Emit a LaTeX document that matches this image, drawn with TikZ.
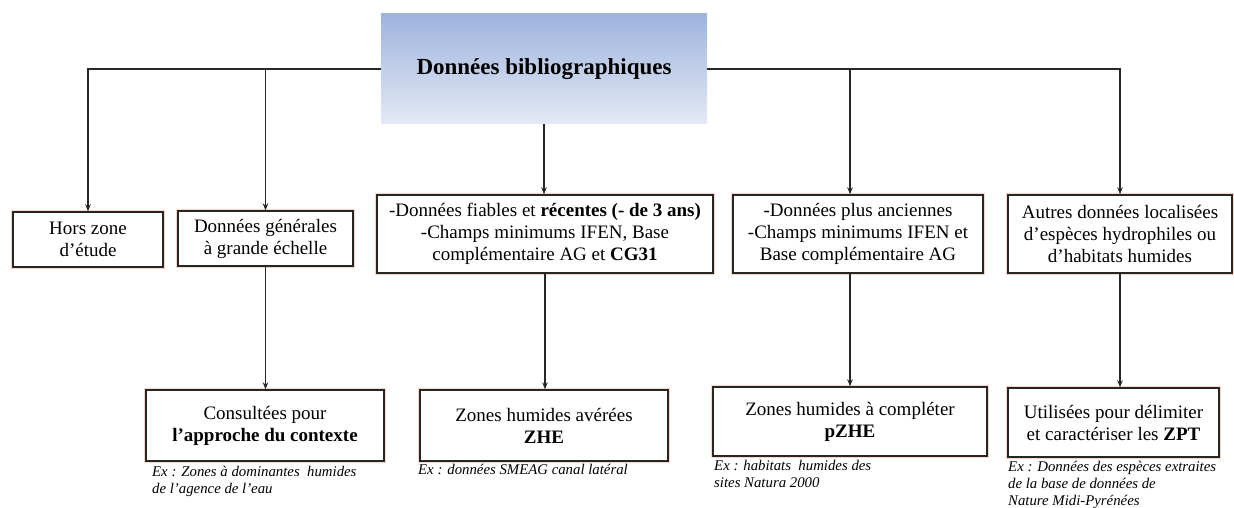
\documentclass[tikz,border=0pt]{standalone}
\usepackage{fontspec}
\setmainfont{Liberation Serif}
\usepackage{xcolor}
\usepackage{tikz}
\usetikzlibrary{positioning, calc, arrows.meta}
\definecolor{bleuhaut}{RGB}{158,180,221}
\definecolor{bleubas}{RGB}{228,233,245}
\definecolor{trait}{RGB}{38,38,38}
\definecolor{halo}{RGB}{250,212,198}

\begin{document}
\begin{tikzpicture}[x=1pt, y=-1pt,
	boite/.style={draw=trait, line width=1.4pt, fill=white, align=center, inner sep=0pt,
		font=\fontsize{19}{22}\selectfont, preaction={draw=halo, line width=3.6pt}},
	titre/.style={top color=bleuhaut, bottom color=bleubas, align=center, inner sep=0pt,
		font=\fontsize{23}{27}\selectfont\bfseries},
	fleche/.style={draw=trait, line width=1.3pt, -{Stealth[length=7pt, width=5.5pt]}},
	legende/.style={anchor=north west, align=left, inner sep=0pt,
		font=\fontsize{14.8}{17}\selectfont\itshape}]
						\useasboundingbox (0,0) rectangle (1234,508);
						\pgfmathsetmacro{\rangun}{234}
						\pgfmathsetmacro{\rangdeux}{424}
						
						\node[titre, minimum width=326, minimum height=110] (biblio) at (544,69) {Données bibliographiques};
						
						\node[boite, minimum width=150, minimum height=55] (hors) at (88,239.5) {Hors zone\\d’étude};
						\node[boite, minimum width=175, minimum height=55] (gen) at (265.5,238.5) {Données générales\\à grande échelle};
						\node[boite, minimum width=336, minimum height=78] (fiable) at (545,\rangun) {-Données fiables et \textbf{récentes (- de 3 ans)}\\-Champs minimums IFEN, Base\\complémentaire AG et \textbf{CG31}};
						\node[boite, minimum width=250, minimum height=78] (ancien) at (858,\rangun) {-Données plus anciennes\\-Champs minimums IFEN et\\Base complémentaire AG};
						\node[boite, minimum width=224, minimum height=78] (autres) at (1120,\rangun) {Autres données localisées\\d’espèces hydrophiles ou\\d’habitats humides};
						
						\node[boite, minimum width=238, minimum height=71] (contexte) at (265,\rangdeux+1.5) {Consultées pour\\\textbf{l’approche du contexte}};
						\node[boite, minimum width=248, minimum height=71] (zhe) at (544,\rangdeux+1.5) {Zones humides avérées\\\textbf{ZHE}};
						\node[boite, minimum width=274, minimum height=69] (pzhe) at (850,\rangdeux-2.5) {Zones humides à compléter\\\textbf{pZHE}};
						\node[boite, minimum width=211, minimum height=69] (zpt) at (1113.5,\rangdeux-1.5) {Utilisées pour délimiter\\et caractériser les \textbf{ZPT}};
						
						\node[legende] (exun) at (152,466) {Ex : Zones à dominantes\ \ humides\\de l’agence de l’eau};
						\node[legende] (exdeux) at (418,464) {Ex : données SMEAG canal latéral};
						\node[legende] (extrois) at (714,460) {Ex : habitats\ \ humides des\\sites Natura 2000};
						\node[legende] (exquatre) at (1008,461) {Ex : Données des espèces extraites\\de la base de données de\\Nature Midi-Pyrénées};
						
						\draw[fleche] (biblio.west) -| (hors.north);
						\draw[fleche] (biblio.west) -| (gen.north);
						\draw[fleche] (biblio.south) -- (biblio.south |- fiable.north);
						\draw[fleche] (biblio.east) -| ($(ancien.north)+(-8,0)$);
						\draw[fleche] (biblio.east) -| (autres.north);
						
						\draw[fleche] (gen.south) -- (gen.south |- contexte.north);
						\draw[fleche] (fiable.south) -- (fiable.south |- zhe.north);
						\draw[fleche] (ancien.south -| pzhe.north) -- (pzhe.north);
						\draw[fleche] (autres.south) -- (autres.south |- zpt.north);
\end{tikzpicture}
\end{document}
